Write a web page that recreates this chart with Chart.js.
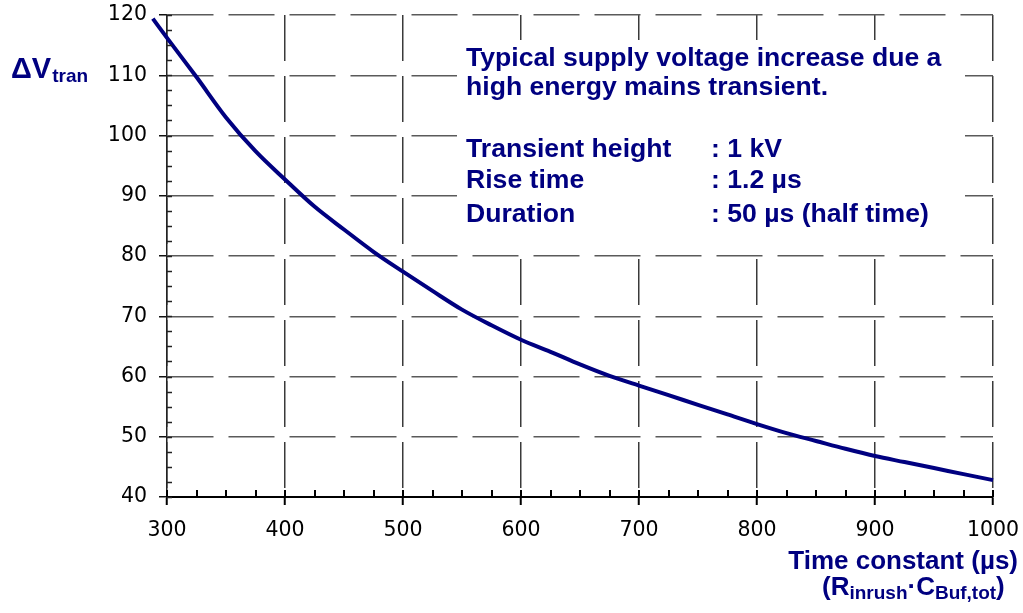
<!DOCTYPE html>
<html>
<head>
<meta charset="utf-8">
<script src="https://cdn.jsdelivr.net/npm/chart.js@4.4.1/dist/chart.umd.min.js"></script>
<style>
html,body{margin:0;padding:0;background:#ffffff;}
#wrap{width:1023px;height:613px;position:relative;}
</style>
</head>
<body>
<div id="wrap"><canvas id="c" width="1023" height="613"></canvas></div>
<script>
// ---- data ----
const timeConstant = [288,300,325,350,375,400,425,450,475,500,525,550,575,600,625,650,675,700,725,750,775,800,825,850,875,900,925,950,975,1000];
const deltaV = [119.4,116.2,109.7,103.0,97.4,92.7,88.2,84.4,80.7,77.4,74.2,71.1,68.5,66.1,64.1,62.0,60.1,58.5,56.9,55.3,53.7,52.1,50.6,49.3,48.0,46.8,45.8,44.8,43.8,42.8];
const xTickValues = [300,400,500,600,700,800,900,1000];
const yTickValues = [40,50,60,70,80,90,100,110,120];
const xMinorStep = 25;
const yMinorStep = 2.5;
const yTitleMain = 'ΔV';
const yTitleSub = 'tran';
const xTitleLine1 = 'Time constant (µs)';
const xTitleLine2 = [['(R', 0], ['inrush', 1], ['·C', 0], ['Buf,tot', 1], [')', 0]];
const noteHeader = ['Typical supply voltage increase due a', 'high energy mains transient.'];
const noteLabels = ['Transient height', 'Rise time', 'Duration'];
const noteValues = [': 1 kV', ': 1.2 µs', ': 50 µs (half time)'];

const NAVY = '#000080';
const BOLD = '"Liberation Sans", Arial, sans-serif';

const points = timeConstant.map((t, i) => ({x: t, y: deltaV[i]}));

function zeroPad(scale) {
  scale.paddingTop = 0; scale.paddingBottom = 0;
  scale.paddingLeft = 0; scale.paddingRight = 0;
}

const decor = {
  id: 'decor',
  beforeDatasetsDraw(chart) {
    const ctx = chart.ctx;
    ctx.save();
    ctx.fillStyle = '#ffffff';
    ctx.fillRect(457, 40, 508, 204);
    ctx.restore();
  },
  afterDatasetsDraw(chart) {
    const ctx = chart.ctx;
    const {x, y} = chart.scales;
    const area = chart.chartArea;
    ctx.save();
    ctx.strokeStyle = '#000';
    ctx.lineWidth = 2;
    for (let v = x.min; v <= x.max + 0.001; v += xMinorStep) {
      const px = Math.round(x.getPixelForValue(v));
      ctx.beginPath();
      ctx.moveTo(px, area.bottom);
      ctx.lineTo(px, area.bottom - 7);
      ctx.stroke();
    }
    ctx.lineWidth = 1.5;
    ctx.strokeStyle = '#222';
    for (let v = y.min; v <= y.max + 0.001; v += yMinorStep) {
      const py = Math.round(y.getPixelForValue(v)) + 0.5;
      ctx.beginPath();
      ctx.moveTo(area.left, py);
      ctx.lineTo(area.left + 5, py);
      ctx.stroke();
    }
    ctx.restore();
  },
  afterDraw(chart) {
    const ctx = chart.ctx;
    ctx.save();
    ctx.fillStyle = NAVY;
    ctx.textBaseline = 'alphabetic';
    ctx.textAlign = 'left';
    ctx.font = 'bold 29px ' + BOLD;
    ctx.fillText(yTitleMain, 11, 78);
    const w1 = ctx.measureText(yTitleMain).width;
    ctx.font = 'bold 19px ' + BOLD;
    ctx.fillText(yTitleSub, 11 + w1 + 1, 82);
    ctx.font = 'bold 26px ' + BOLD;
    ctx.textAlign = 'right';
    ctx.fillText(xTitleLine1, 1018, 569);
    ctx.textAlign = 'left';
    let cx = 822;
    xTitleLine2.forEach(([t, sub]) => {
      ctx.font = sub ? 'bold 19px ' + BOLD : 'bold 26px ' + BOLD;
      ctx.fillText(t, cx, sub ? 599 : 595);
      cx += ctx.measureText(t).width;
    });
    ctx.font = 'bold 26.6px ' + BOLD;
    ctx.fillText(noteHeader[0], 466, 66);
    ctx.fillText(noteHeader[1], 466, 95);
    const bases = [157, 188, 222];
    noteLabels.forEach((l, i) => {
      ctx.fillText(l, 466, bases[i]);
      ctx.fillText(noteValues[i], 711, bases[i]);
    });
    ctx.restore();
  }
};

new Chart(document.getElementById('c'), {
  type: 'line',
  data: {
    datasets: [{
      data: points,
      borderColor: NAVY,
      borderWidth: 4,
      pointRadius: 0,
      fill: false,
      cubicInterpolationMode: 'monotone',
      clip: false
    }]
  },
  options: {
    responsive: false,
    animation: false,
    devicePixelRatio: 1,
    layout: {padding: {left: 0, right: 30, top: 15, bottom: 0}},
    plugins: {legend: {display: false}, tooltip: {enabled: false}},
    scales: {
      x: {
        type: 'linear',
        min: 300, max: 1000,
        afterBuildTicks(scale) { scale.ticks = xTickValues.map(v => ({value: v})); },
        afterFit(scale) { scale.height = 116; zeroPad(scale); },
        ticks: {
          color: '#000',
          font: {family: '"DejaVu Sans", sans-serif', size: 20.5},
          padding: 13,
          maxRotation: 0,
          callback: v => String(v)
        },
        grid: {
          color: '#3a3a3a',
          lineWidth: 1.5,
          tickLength: 8,
          tickColor: '#000',
          tickWidth: 2,
          borderDash: [46, 15]
        },
        border: {display: true, color: '#000', width: 2, dash: [46, 15]}
      },
      y: {
        type: 'linear',
        min: 40, max: 120,
        afterBuildTicks(scale) { scale.ticks = yTickValues.map(v => ({value: v})); },
        afterFit(scale) { scale.width = 167; zeroPad(scale); },
        ticks: {
          color: '#000',
          font: {family: '"DejaVu Sans", sans-serif', size: 20.5},
          padding: 12,
          callback: v => String(v)
        },
        grid: {
          color: '#5a5a5a',
          lineWidth: 1.5,
          tickLength: 8,
          tickColor: '#111',
          tickWidth: 1.5,
          borderDash: [46, 15]
        },
        border: {display: true, color: '#222', width: 1.5, dash: [46, 15]}
      }
    }
  },
  plugins: [decor]
});
</script>
</body>
</html>
